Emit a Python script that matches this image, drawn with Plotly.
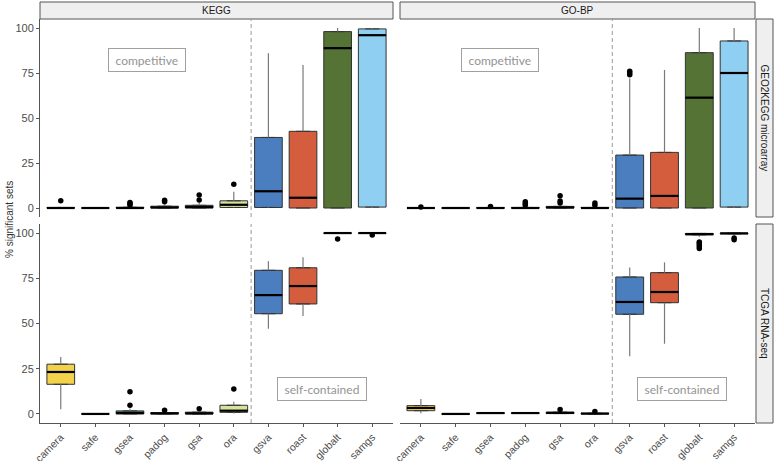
import plotly.graph_objects as go

# methods on the x axis, in plotting order
methods = ['camera', 'safe', 'gsea', 'padog', 'gsa', 'ora',
           'gsva', 'roast', 'globalt', 'samgs']
colors = ['#F2D24B', '#6B4C9A', '#3E8E5E', '#E0913A', '#8E2F2C', '#D8E29E',
          '#4A7EBF', '#D45D3E', '#557335', '#8FCFF2']

# KEGG / GEO2KEGG microarray
kegg_geo_q1 = [0, 0, 0, 0, 0, 0.3, 0.3, 0, 0, 0.5]
kegg_geo_med = [0, 0, 0, 0.3, 0.5, 1.8, 9.3, 5.7, 88.8, 96.0]
kegg_geo_q3 = [0.3, 0, 0.4, 1.0, 1.5, 4.0, 39.2, 42.6, 98.0, 99.5]
kegg_geo_lo = [0, 0, 0, 0, 0, 0, 0, 0, 0, 0]
kegg_geo_hi = [0.5, 0, 1.0, 2.0, 3.0, 9.0, 86.0, 79.5, 100, 100]
kegg_geo_out = [[4.0], [], [1.5, 2.5, 3.0], [3.5, 4.3], [4.5, 7.2], [13.2],
                [], [], [], []]

# GO-BP / GEO2KEGG microarray
gobp_geo_q1 = [0, 0, 0, 0, 0, 0, 0, 0, 0, 0.5]
gobp_geo_med = [0, 0, 0, 0, 0.3, 0, 5.2, 6.7, 61.3, 75.0]
gobp_geo_q3 = [0, 0, 0.2, 0.3, 0.9, 0.3, 29.4, 30.9, 86.3, 92.8]
gobp_geo_lo = [0, 0, 0, 0, 0, 0, 0, 0, 0, 0]
gobp_geo_hi = [0, 0, 0.3, 0.8, 1.5, 0.5, 72.0, 76.7, 100, 100]
gobp_geo_out = [[0.5], [], [0.8], [1.5, 2.5, 3.5], [2.8, 3.9, 6.8], [1.5, 2.8],
                [74, 75, 76], [], [], []]

# KEGG / TCGA RNA-seq
kegg_tcga_q1 = [16.4, 0, 0, 0, 0, 0.9, 55.4, 60.8, 99.8, 99.8]
kegg_tcga_med = [23.2, 0, 0.5, 0.3, 0.3, 1.8, 65.7, 70.7, 100, 100]
kegg_tcga_q3 = [27.5, 0, 1.7, 0.8, 1.0, 4.8, 79.4, 80.8, 100, 100]
kegg_tcga_lo = [2.6, 0, 0, 0, 0, 0.2, 47.1, 54.1, 99.5, 99.5]
kegg_tcga_hi = [31.5, 0, 3.0, 1.2, 1.5, 6.8, 84.5, 86.6, 100, 100]
kegg_tcga_out = [[], [], [4.8, 12.3], [2.0], [2.9], [13.8], [], [], [96.7], [98.9]]

# GO-BP / TCGA RNA-seq
gobp_tcga_q1 = [1.8, 0, 0.3, 0.3, 0.2, 0, 55.1, 61.5, 99.0, 99.6]
gobp_tcga_med = [3.3, 0, 0.5, 0.5, 0.6, 0.2, 61.9, 67.4, 99.4, 99.8]
gobp_tcga_q3 = [4.6, 0, 0.6, 0.6, 1.0, 0.4, 75.7, 78.1, 99.8, 100]
gobp_tcga_lo = [0.4, 0, 0.2, 0.2, 0, 0, 31.9, 38.8, 98.0, 99.0]
gobp_tcga_hi = [8.3, 0, 0.8, 0.8, 1.5, 0.6, 81.0, 83.8, 100, 100]
gobp_tcga_out = [[], [], [], [], [2.4], [1.3], [], [],
                 [91.5, 92.5, 93.5, 94.5, 95.0], [96.3, 97.3]]

W, H = 775, 461
BW = 0.8  # box width in category units

panels = [
    # (xaxis, yaxis, q1, med, q3, lo, hi, out)
    ('x', 'y', kegg_geo_q1, kegg_geo_med, kegg_geo_q3, kegg_geo_lo, kegg_geo_hi, kegg_geo_out),
    ('x2', 'y2', gobp_geo_q1, gobp_geo_med, gobp_geo_q3, gobp_geo_lo, gobp_geo_hi, gobp_geo_out),
    ('x3', 'y3', kegg_tcga_q1, kegg_tcga_med, kegg_tcga_q3, kegg_tcga_lo, kegg_tcga_hi, kegg_tcga_out),
    ('x4', 'y4', gobp_tcga_q1, gobp_tcga_med, gobp_tcga_q3, gobp_tcga_lo, gobp_tcga_hi, gobp_tcga_out),
]

fig = go.Figure()
pos = list(range(1, len(methods) + 1))

for xa, ya, q1, med, q3, lo, hi, out in panels:
    for i, m in enumerate(methods):
        p = pos[i]
        # whiskers
        fig.add_trace(go.Scatter(
            x=[p, p, None, p, p], y=[q3[i], hi[i], None, q1[i], lo[i]],
            mode='lines', line=dict(color='#7a7a7a', width=1.2),
            xaxis=xa, yaxis=ya, showlegend=False, hoverinfo='skip'))
        # box
        fig.add_trace(go.Box(
            x=[p], q1=[q1[i]], median=[med[i]], q3=[q3[i]],
            lowerfence=[q1[i]], upperfence=[q3[i]], width=BW,
            fillcolor=colors[i], line=dict(color='#333333', width=1),
            xaxis=xa, yaxis=ya, showlegend=False, name=m, boxpoints=False))
        # median
        fig.add_trace(go.Scatter(
            x=[p - BW / 2, p + BW / 2], y=[med[i], med[i]],
            mode='lines', line=dict(color='black', width=2.2),
            xaxis=xa, yaxis=ya, showlegend=False, hoverinfo='skip'))
    # outliers
    ox, oy = [], []
    for i, vals in enumerate(out):
        ox += [pos[i]] * len(vals)
        oy += vals
    fig.add_trace(go.Scatter(
        x=ox, y=oy, mode='markers', marker=dict(color='black', size=5.5),
        xaxis=xa, yaxis=ya, showlegend=False))


def px_x(a, b):
    return [a / W, b / W]


def px_y(top, bottom):
    return [1 - bottom / H, 1 - top / H]


xl, xr = px_x(40, 393), px_x(400, 755)
yt, yb = px_y(19, 217), px_y(224, 423)

font_axis = dict(family='Liberation Sans, Arial', size=11, color='#4d4d4d')
font_xtick = dict(family='Liberation Sans, Arial', size=10.5, color='#4d4d4d')
xcommon = dict(range=[0.4, 10.6], tickvals=pos, ticktext=methods, automargin=False,
               showgrid=False, zeroline=False, fixedrange=True)
ycommon = dict(range=[-5, 105], tickvals=[0, 25, 50, 75, 100], automargin=False,
               showgrid=False, zeroline=False)

layout_axes = dict(
    xaxis=dict(domain=xl, anchor='y', showticklabels=False, ticks='', **xcommon),
    xaxis2=dict(domain=xr, anchor='y2', showticklabels=False, ticks='', **xcommon),
    xaxis3=dict(domain=xl, anchor='y3', showline=True, linecolor='#555', linewidth=1,
                ticks='outside', ticklen=3, tickcolor='#555', tickangle=-45,
                tickfont=font_xtick, **xcommon),
    xaxis4=dict(domain=xr, anchor='y4', showline=True, linecolor='#555', linewidth=1,
                ticks='outside', ticklen=3, tickcolor='#555', tickangle=-45,
                tickfont=font_xtick, **xcommon),
    yaxis=dict(domain=yt, anchor='x', showline=True, linecolor='#555', linewidth=1,
               ticks='outside', ticklen=3, tickcolor='#555', tickfont=font_axis, **ycommon),
    yaxis2=dict(domain=yt, anchor='x2', showticklabels=False, ticks='', **ycommon),
    yaxis3=dict(domain=yb, anchor='x3', showline=True, linecolor='#555', linewidth=1,
                ticks='outside', ticklen=3, tickcolor='#555', tickfont=font_axis, **ycommon),
    yaxis4=dict(domain=yb, anchor='x4', showticklabels=False, ticks='', **ycommon),
)

shapes = []
annotations = []
strip_fill, strip_line = '#efefef', '#555555'
strip_font = dict(family='Liberation Sans, Arial', size=10, color='#1a1a1a')

# top strips
for (a, b), label in [((40, 393), 'KEGG'), ((400, 755), 'GO-BP')]:
    shapes.append(dict(type='rect', xref='paper', yref='paper',
                       x0=a / W, x1=b / W, y0=1 - 19 / H, y1=1 - 2 / H,
                       fillcolor=strip_fill, line=dict(color=strip_line, width=1)))
    annotations.append(dict(xref='paper', yref='paper', x=(a + b) / 2 / W,
                            y=1 - 10.5 / H, text=label, showarrow=False, font=strip_font,
                            xanchor='center', yanchor='middle'))
# right strips
for (t, bt), label in [((19, 217), 'GEO2KEGG microarray'), ((224, 423), 'TCGA RNA-seq')]:
    shapes.append(dict(type='rect', xref='paper', yref='paper',
                       x0=756 / W, x1=773 / W, y0=1 - bt / H, y1=1 - t / H,
                       fillcolor=strip_fill, line=dict(color=strip_line, width=1)))
    annotations.append(dict(xref='paper', yref='paper', x=764.5 / W,
                            y=1 - (t + bt) / 2 / H, text=label, showarrow=False,
                            textangle=90, font=strip_font,
                            xanchor='center', yanchor='middle'))

# dashed separators between competitive and self-contained methods
for xa, ya in [('x', 'y'), ('x2', 'y2'), ('x3', 'y3'), ('x4', 'y4')]:
    shapes.append(dict(type='line', xref=xa, yref=ya + ' domain', x0=6.5, x1=6.5,
                       y0=0, y1=1, line=dict(color='#9a9a9a', width=1, dash='4px,3px')))

label_font = dict(family='Lato, Open Sans', size=12, color='#939393')
for xa, ya, xv, yv, txt in [('x', 'y', 3.48, 82, 'competitive'),
                            ('x2', 'y2', 3.26, 82, 'competitive'),
                            ('x3', 'y3', 8.56, 14, 'self-contained'),
                            ('x4', 'y4', 8.5, 14, 'self-contained')]:
    annotations.append(dict(xref=xa, yref=ya, x=xv, y=yv, text=' ' + txt + ' ',
                            showarrow=False,
                            font=label_font, bgcolor='white', bordercolor='#a0a0a0',
                            borderwidth=1, borderpad=3.5,
                            xanchor='center', yanchor='middle'))

annotations.append(dict(xref='paper', yref='paper', x=10 / W, y=1 - 220 / H,
                        text='% significant sets', showarrow=False, textangle=-90,
                        xanchor='center', yanchor='middle',
                        font=dict(family='Liberation Sans, Arial', size=10, color='#333')))

fig.update_layout(
    template='none',
    width=W, height=H, margin=dict(l=0, r=0, t=0, b=0, autoexpand=False),
    paper_bgcolor='white', plot_bgcolor='white',
    showlegend=False, shapes=shapes, annotations=annotations,
    **layout_axes)

# the page body has a default 8px margin; drop it so the figure fills the window
fig.write_html("out.html", config={'displayModeBar': False},
               post_script="document.body.style.margin='0';")
